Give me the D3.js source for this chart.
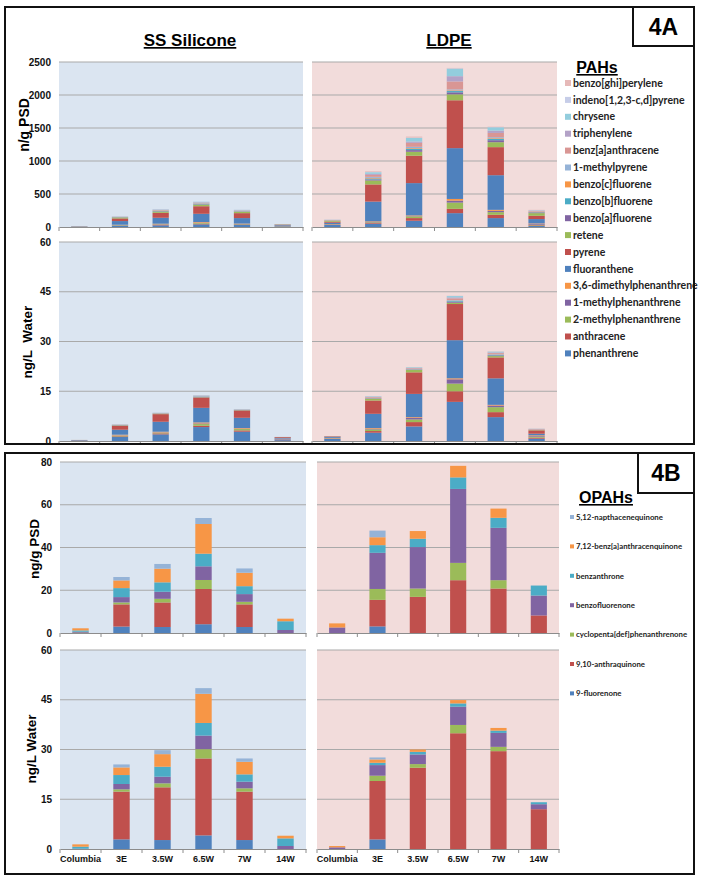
<!DOCTYPE html>
<html>
<head>
<meta charset="utf-8">
<script src="https://cdn.jsdelivr.net/npm/d3@7"></script>
<style>
  body { margin: 0; background: #fff; }
  svg { display: block; font-family: "Liberation Sans", Arial, sans-serif; }
</style>
</head>
<body>
<div id="chart"></div>
<script>
// sampling sites (x categories)
const sites = ["Columbia", "3E", "3.5W", "6.5W", "7W", "14W"];

// PAH compounds, stacked bottom to top
const pahNames = [
  "phenanthrene", "anthracene", "2-methylphenanthrene", "1-methylphenanthrene",
  "3,6-dimethylphenanthrene", "fluoranthene", "pyrene", "retene",
  "benzo[a]fluorene", "benzo[b]fluorene", "benzo[c]fluorene", "1-methylpyrene",
  "benz[a]anthracene", "triphenylene", "chrysene", "indeno[1,2,3-c,d]pyrene",
  "benzo[ghi]perylene"
];
const pahColors = [
  "#4f81bd", "#c0504d", "#9bbb59", "#8064a2", "#f79646", "#4f81bd", "#c0504d",
  "#9bbb59", "#8064a2", "#4bacc6", "#f79646", "#95b3d7", "#d99694", "#b3a2c7",
  "#93cddd", "#c6cde8", "#e6b9b8"
];

// OPAH compounds, stacked bottom to top
const opahNames = [
  "9-fluorenone", "9,10-anthraquinone", "cyclopenta[def]phenanthrenone",
  "benzofluorenone", "benzanthrone", "7,12-benz[a]anthracenquinone",
  "5,12-napthacenequinone"
];
const opahColors = ["#4f81bd", "#c0504d", "#9bbb59", "#8064a2", "#4bacc6", "#f79646", "#95b3d7"];

// tick values
const pahPsdTicks = [0, 500, 1000, 1500, 2000, 2500];
const waterTicks = [0, 15, 30, 45, 60];
const opahPsdTicks = [0, 20, 40, 60, 80];

// PAHs, ng/g PSD -- one row per site, one value per compound
const pahPsdSilicone = [
  [3, 1, 1, 0.5, 0.5, 2, 2, 1, 0.3, 0.3, 0.2, 0.3, 0.5, 0.3, 0.5, 0.1, 0.2],
  [20, 5, 5, 3, 2, 55, 40, 15, 2, 2, 1, 2, 3, 2, 3, 1, 1],
  [25, 10, 5, 3, 7, 90, 75, 20, 5, 5, 5, 3, 5, 5, 5, 1, 1],
  [40, 10, 10, 5, 10, 125, 115, 25, 6, 6, 5, 5, 8, 5, 8, 1, 1],
  [30, 8, 6, 3, 5, 83, 75, 20, 4, 4, 3, 3, 6, 4, 6, 1, 1],
  [8, 3, 3, 2, 2, 10, 7, 4, 1, 0.5, 0.5, 0.5, 1, 0.5, 1, 0.5, 0.5]
];
const pahPsdLdpe = [
  [30, 5, 5, 3, 2, 20, 15, 15, 2, 2, 1, 2, 3, 2, 3, 1, 1],
  [50, 10, 10, 5, 10, 300, 260, 60, 15, 15, 10, 15, 30, 15, 25, 5, 10],
  [95, 40, 25, 5, 10, 490, 415, 60, 25, 20, 10, 20, 60, 20, 55, 5, 15],
  [210, 65, 95, 30, 25, 770, 725, 90, 30, 20, 10, 15, 120, 80, 115, 5, 5],
  [135, 50, 40, 20, 15, 525, 425, 75, 30, 20, 10, 15, 65, 35, 50, 5, 5],
  [15, 10, 10, 15, 5, 65, 50, 40, 10, 5, 5, 5, 10, 5, 5, 2, 3]
];

// PAHs, ng/L water
const pahWaterSilicone = [
  [0.15, 0.02, 0.02, 0.01, 0.02, 0.05, 0.04, 0.01, 0, 0, 0, 0, 0, 0, 0, 0, 0],
  [1.2, 0.2, 0.2, 0.1, 0.2, 1.5, 1.2, 0.1, 0.05, 0.05, 0.05, 0.05, 0.05, 0.03, 0.05, 0.01, 0.01],
  [2.0, 0.3, 0.2, 0.1, 0.2, 3.0, 2.3, 0.1, 0.05, 0.05, 0.05, 0.05, 0.05, 0.03, 0.05, 0.01, 0.01],
  [4.2, 0.4, 0.5, 0.2, 0.3, 4.4, 3.1, 0.1, 0.1, 0.1, 0.05, 0.1, 0.1, 0.05, 0.1, 0.02, 0.02],
  [2.8, 0.4, 0.4, 0.1, 0.2, 3.1, 2.2, 0.1, 0.05, 0.05, 0.03, 0.05, 0.05, 0.03, 0.05, 0.01, 0.01],
  [0.25, 0.1, 0.1, 0.25, 0.05, 0.15, 0.25, 0.02, 0.01, 0.01, 0.01, 0.01, 0.01, 0.01, 0.01, 0, 0]
];
const pahWaterLdpe = [
  [0.6, 0.1, 0.1, 0.05, 0.1, 0.3, 0.15, 0.03, 0.01, 0.01, 0.01, 0.01, 0.02, 0.01, 0.01, 0, 0],
  [2.5, 0.5, 0.5, 0.2, 0.2, 4.3, 4.0, 0.5, 0.1, 0.1, 0.05, 0.1, 0.2, 0.1, 0.15, 0.02, 0.02],
  [4.4, 1.3, 0.8, 0.5, 0.2, 7.0, 6.5, 0.7, 0.1, 0.1, 0.05, 0.1, 0.2, 0.1, 0.2, 0.02, 0.03],
  [11.8, 3.2, 2.3, 1.3, 0.3, 11.5, 10.9, 0.4, 0.3, 0.2, 0.1, 0.2, 0.5, 0.3, 0.4, 0.05, 0.05],
  [7.2, 1.5, 1.5, 0.5, 0.2, 8.0, 6.3, 0.4, 0.2, 0.15, 0.1, 0.15, 0.3, 0.2, 0.25, 0.05, 0.05],
  [0.7, 0.3, 0.3, 0.2, 0.2, 0.5, 1.0, 0.1, 0.05, 0.05, 0.05, 0.05, 0.1, 0.05, 0.05, 0.02, 0.03]
];

// OPAHs, ng/g PSD
const opahPsdSilicone = [
  [0.3, 0.2, 0, 0.1, 0.6, 1.0, 0],
  [3.0, 10.4, 0.9, 2.5, 4.2, 3.6, 1.6],
  [2.8, 11.5, 1.7, 3.3, 4.4, 6.4, 2.2],
  [4.1, 16.5, 4.2, 6.4, 5.9, 13.9, 2.8],
  [2.8, 10.6, 1.2, 3.6, 3.7, 6.3, 2.0],
  [0, 0, 0, 1.4, 4.1, 1.2, 0]
];
const opahPsdLdpe = [
  [0, 0, 0, 2.6, 0, 1.9, 0],
  [3.1, 12.4, 5.1, 16.9, 3.6, 3.7, 3.1],
  [0, 16.9, 3.9, 19.4, 3.9, 3.6, 0],
  [0, 24.7, 8.1, 34.6, 5.4, 5.4, 0],
  [0, 20.8, 3.9, 24.5, 4.7, 4.3, 0],
  [0, 8.2, 0, 9.3, 4.7, 0, 0]
];

// OPAHs, ng/L water
const opahWaterSilicone = [
  [0.1, 0, 0, 0, 0.6, 0.7, 0],
  [2.9, 14.4, 0.7, 1.6, 2.7, 2.3, 0.9],
  [2.7, 15.9, 1.2, 2.0, 3.0, 3.8, 1.2],
  [4.1, 23.2, 2.8, 4.1, 3.8, 8.8, 1.7],
  [2.7, 14.6, 1.0, 2.0, 2.2, 3.8, 1.0],
  [0, 0, 0, 0.9, 2.3, 0.8, 0]
];
const opahWaterLdpe = [
  [0, 0, 0, 0.5, 0, 0.4, 0],
  [2.9, 17.6, 1.6, 3.2, 0.7, 1.0, 0.6],
  [0, 24.5, 1.1, 2.9, 0.8, 0.7, 0],
  [0, 34.9, 2.5, 5.5, 1.0, 1.0, 0],
  [0, 29.5, 1.3, 4.2, 0.7, 0.8, 0],
  [0, 12.0, 0, 1.5, 0.6, 0, 0]
];

const SILICONE_BG = "#dbe5f1";
const LDPE_BG = "#f2dcdb";
const BOLD = "bold";

const svg = d3.select("#chart").append("svg")
  .attr("width", 701)
  .attr("height", 881);

// one stacked bar panel
function drawPanel(p) {
  const x = d3.scaleBand()
    .domain(sites)
    .range([p.left, p.right])
    .paddingInner(0.6)
    .paddingOuter(0.3);
  const y = d3.scaleLinear()
    .domain([0, d3.max(p.ticks)])
    .range([p.bottom, p.top]);

  const g = svg.append("g");

  g.append("rect")
    .attr("x", p.left)
    .attr("y", p.top)
    .attr("width", p.right - p.left)
    .attr("height", p.bottom - p.top)
    .attr("fill", p.bg);

  // gridlines
  g.selectAll(".grid")
    .data(p.ticks.filter(t => t > 0))
    .join("line")
    .attr("class", "grid")
    .attr("x1", p.left)
    .attr("x2", p.right)
    .attr("y1", d => y(d))
    .attr("y2", d => y(d))
    .attr("stroke", "#a9a9a9")
    .attr("stroke-width", 1);

  // stacked bars
  const series = d3.stack().keys(d3.range(p.colors.length))(p.data);
  g.selectAll(".layer")
    .data(series)
    .join("g")
    .attr("class", "layer")
    .attr("fill", (d, i) => p.colors[i])
    .selectAll("rect")
    .data(d => d.map((v, j) => ({ v: v, site: sites[j] })))
    .join("rect")
    .attr("x", d => x(d.site))
    .attr("width", x.bandwidth())
    .attr("y", d => y(d.v[1]))
    .attr("height", d => Math.max(0, y(d.v[0]) - y(d.v[1])));

  // x axis with ticks between categories
  const xAxis = g.append("g")
    .attr("transform", "translate(0," + p.bottom + ")")
    .call(d3.axisBottom(x).tickSize(0).tickSizeOuter(0).tickPadding(7)
      .tickFormat(p.xLabels ? d => d : ""));
  xAxis.select(".domain").attr("stroke", "#8c8c8c");
  xAxis.selectAll("text")
    .attr("font-family", "Liberation Sans, Arial, sans-serif")
    .attr("font-size", 9)
    .attr("font-weight", BOLD)
    .attr("fill", "#111");
  g.selectAll(".sep")
    .data(d3.range(sites.length + 1))
    .join("line")
    .attr("x1", i => x.range()[0] + i * x.step())
    .attr("x2", i => x.range()[0] + i * x.step())
    .attr("y1", p.bottom)
    .attr("y2", p.bottom + 4)
    .attr("stroke", "#8c8c8c");

  // y axis
  if (p.yAxis) {
    const yAxis = g.append("g")
      .attr("transform", "translate(" + p.left + ",0)")
      .call(d3.axisLeft(y).tickValues(p.ticks).tickSize(0).tickPadding(8)
        .tickFormat(d3.format("d")));
    yAxis.select(".domain").remove();
    yAxis.selectAll("text")
      .attr("font-family", "Liberation Sans, Arial, sans-serif")
      .attr("font-size", 10)
      .attr("font-weight", BOLD)
      .attr("fill", "#111");
  }
}

const rows = [
  { top: 62, bottom: 227, ticks: pahPsdTicks, colors: pahColors, left: pahPsdSilicone, right: pahPsdLdpe },
  { top: 242, bottom: 441, ticks: waterTicks, colors: pahColors, left: pahWaterSilicone, right: pahWaterLdpe },
  { top: 462, bottom: 633, ticks: opahPsdTicks, colors: opahColors, left: opahPsdSilicone, right: opahPsdLdpe },
  { top: 650, bottom: 849, ticks: waterTicks, colors: opahColors, left: opahWaterSilicone, right: opahWaterLdpe, xLabels: true }
];

rows.forEach((r, i) => {
  const leftX = i < 2 ? [59, 303] : [60, 306];
  const rightX = i < 2 ? [312, 557] : [317, 559];
  drawPanel({ top: r.top, bottom: r.bottom, ticks: r.ticks, colors: r.colors, data: r.left,
    left: leftX[0], right: leftX[1], bg: SILICONE_BG, yAxis: true, xLabels: r.xLabels });
  drawPanel({ top: r.top, bottom: r.bottom, ticks: r.ticks, colors: r.colors, data: r.right,
    left: rightX[0], right: rightX[1], bg: LDPE_BG, yAxis: false, xLabels: r.xLabels });
});

// y axis titles
const yTitles = [
  { text: "n/g PSD", x: 24, y: 125, size: 14 },
  { text: "ng/L  Water", x: 27, y: 342, size: 13.5 },
  { text: "ng/g PSD", x: 34, y: 549, size: 13.5 },
  { text: "ng/L Water", x: 31, y: 749, size: 13.5 }
];
svg.selectAll(".ytitle")
  .data(yTitles)
  .join("text")
  .attr("transform", d => "translate(" + d.x + "," + d.y + ") rotate(-90)")
  .attr("text-anchor", "middle")
  .attr("dy", "0.35em")
  .attr("font-size", d => d.size)
  .attr("font-weight", BOLD)
  .style("white-space", "pre")
  .text(d => d.text);

// column titles
svg.selectAll(".ctitle")
  .data([{ text: "SS Silicone", x: 190 }, { text: "LDPE", x: 449 }])
  .join("text")
  .attr("x", d => d.x)
  .attr("y", 46)
  .attr("text-anchor", "middle")
  .attr("font-size", 17)
  .attr("font-weight", BOLD)
  .style("text-decoration", "underline")
  .text(d => d.text);

// legends
function drawLegend(title, names, colors, o) {
  const g = svg.append("g");
  g.append("text")
    .attr("x", o.titleX)
    .attr("y", o.titleY)
    .attr("text-anchor", "middle")
    .attr("font-size", o.titleSize)
    .attr("font-weight", BOLD)
    .style("text-decoration", "underline")
    .text(title);
  const items = names.map((n, i) => ({ name: n, color: colors[i] })).reverse();
  const it = g.selectAll(".item")
    .data(items)
    .join("g")
    .attr("transform", (d, i) => "translate(" + o.x + "," + (o.y + i * o.step) + ")");
  it.append("rect")
    .attr("x", 0)
    .attr("y", -o.box / 2)
    .attr("width", o.box)
    .attr("height", o.box)
    .attr("fill", d => d.color);
  it.append("text")
    .attr("x", o.box + 2)
    .attr("dy", "0.35em")
    .attr("font-family", "Lato, sans-serif")
    .attr("font-size", o.size)
    .attr("font-weight", BOLD)
    .attr("fill", "#222")
    .text(d => d.name);
}
drawLegend("PAHs", pahNames, pahColors,
  { titleX: 597, titleY: 73, titleSize: 16, x: 565, y: 83, step: 16.9, box: 6, size: 10.5 });
drawLegend("OPAHs", opahNames, opahColors,
  { titleX: 606, titleY: 503, titleSize: 16, x: 570, y: 517, step: 29.4, box: 4, size: 7.8 });

// frames and panel tags
const frames = [
  { x: 5, y: 7, w: 689, h: 437, tag: "4A", tx: 633, tw: 61, th: 39 },
  { x: 5, y: 453, w: 689, h: 421, tag: "4B", tx: 638, tw: 56, th: 40 }
];
frames.forEach(f => {
  svg.append("rect")
    .attr("x", f.x).attr("y", f.y).attr("width", f.w).attr("height", f.h)
    .attr("fill", "none").attr("stroke", "#111").attr("stroke-width", 2);
  svg.append("rect")
    .attr("x", f.tx).attr("y", f.y).attr("width", f.tw).attr("height", f.th)
    .attr("fill", "#fff").attr("stroke", "#111").attr("stroke-width", 2);
  svg.append("text")
    .attr("x", f.tx + f.tw / 2)
    .attr("y", f.y + f.th / 2)
    .attr("dy", "0.36em")
    .attr("text-anchor", "middle")
    .attr("font-size", 23)
    .attr("font-weight", BOLD)
    .text(f.tag);
});
</script>
</body>
</html>
